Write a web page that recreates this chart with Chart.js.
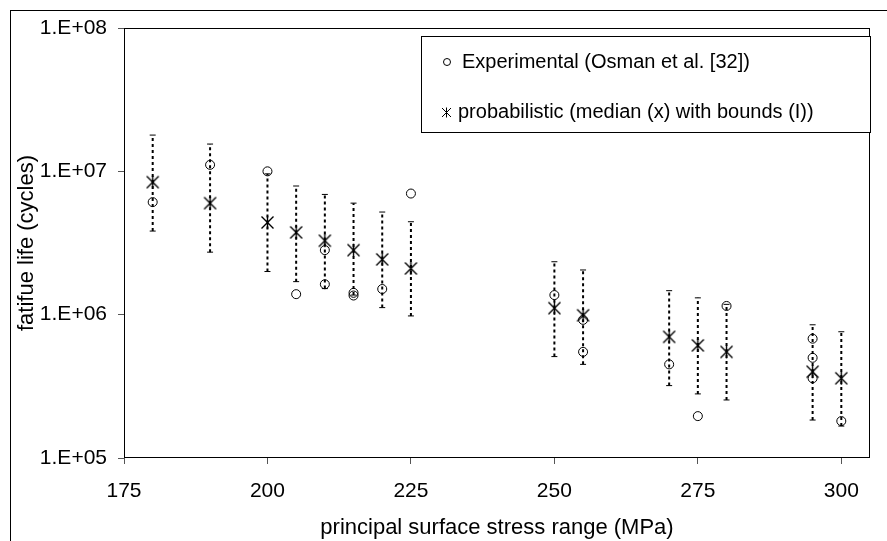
<!DOCTYPE html>
<html>
<head>
<meta charset="utf-8">
<title>fatigue life vs stress range</title>
<script src="https://cdn.jsdelivr.net/npm/chart.js@4.4.1/dist/chart.umd.min.js"></script>
<style>
  body { margin: 0; background: #fff; }
  #graphicFirst { display: block; }
</style>
</head>
<body>
<canvas id="graphicFirst" width="887" height="541"></canvas>
<script>
// S-N chart: experimental points + probabilistic median with bounds
// Librerias: Chart.js

//-----DATA
const stressLevels = [180, 190, 200, 205, 210, 215, 220, 225, 250, 255, 270, 275, 280, 295, 300];
const medianLife = [8.4e6, 6.0e6, 4.4e6, 3.75e6, 3.28e6, 2.82e6, 2.43e6, 2.1e6, 1.11e6, 9.9e5, 7.0e5, 6.1e5, 5.5e5, 4.0e5, 3.6e5];
const upperBound = [1.79e7, 1.55e7, 9.6e6, 7.9e6, 6.9e6, 6.0e6, 5.2e6, 4.45e6, 2.34e6, 2.05e6, 1.47e6, 1.31e6, 1.18e6, 8.5e5, 7.6e5];
const lowerBound = [3.83e6, 2.73e6, 2.0e6, 1.7e6, 1.52e6, 1.37e6, 1.12e6, 9.8e5, 5.1e5, 4.5e5, 3.2e5, 2.8e5, 2.54e5, 1.84e5, 1.67e5];

const expStress = [180, 190, 200, 205, 210, 210, 215, 215, 220, 225, 250, 255, 255, 270, 275, 280, 295, 295, 295, 300];
const expLife = [6.1e6, 1.11e7, 1.0e7, 1.39e6, 2.82e6, 1.63e6, 1.42e6, 1.36e6, 1.51e6, 7.0e6, 1.37e6, 9.2e5, 5.5e5, 4.5e5, 1.96e5, 1.15e6, 6.8e5, 5.0e5, 3.6e5, 1.81e5];

const xTickValues = [175, 200, 225, 250, 275, 300];
const yTickValues = [1e5, 1e6, 1e7, 1e8];
const yTickLabels = ['1.E+05', '1.E+06', '1.E+07', '1.E+08'];
const seriesLabels = ['Experimental (Osman et al. [32])', 'probabilistic (median (x) with bounds (I))'];
const xTitle = 'principal surface stress range (MPa)';
const yTitle = 'fatifue life (cycles)';

const fontFamily = "'Liberation Sans', Arial, sans-serif";

//-----MARKERS
function drawStar(g, cx, cy, h, lw){
  g.beginPath();
  g.moveTo(cx - h, cy - h); g.lineTo(cx + h, cy + h);
  g.moveTo(cx + h, cy - h); g.lineTo(cx - h, cy + h);
  g.moveTo(cx, cy - h - 0.5); g.lineTo(cx, cy + h + 0.5);
  g.lineWidth = lw;
  g.strokeStyle = '#000';
  g.stroke();
}

function makeStarMarker(size){
  let c = document.createElement('canvas');
  c.width = size;
  c.height = size;
  let g = c.getContext('2d');
  drawStar(g, size / 2, size / 2, size / 2 - 1.5, 1.4);
  return c;
}

function buildErrorBars(){
  let pts = [];
  for (let i = 0; i < stressLevels.length; i++) {
    pts.push({x: stressLevels[i], y: lowerBound[i]});
    pts.push({x: stressLevels[i], y: upperBound[i]});
    pts.push({x: stressLevels[i], y: null});
  }
  return pts;
}

//-----FRAMES + LEGEND
const framePlugin = {
  id: 'framePlugin',
  beforeDraw(chart){
    const ctx = chart.ctx;
    ctx.save();
    ctx.strokeStyle = '#000';
    ctx.lineWidth = 1;
    ctx.strokeRect(10.5, 10.5, chart.width, chart.height);
    ctx.restore();
  },
  afterDraw(chart){
    const ctx = chart.ctx;
    const a = chart.chartArea;
    ctx.save();
    ctx.strokeStyle = '#000';
    ctx.lineWidth = 1;
    ctx.strokeRect(Math.round(a.left) + 0.5, Math.round(a.top) + 0.5,
      Math.round(a.right - a.left) - 1, Math.round(a.bottom - a.top) - 1);

    // legend box
    let lx = 421, ly = 36, lw = 449, lh = 96;
    ctx.fillStyle = '#fff';
    ctx.fillRect(lx, ly, lw, lh);
    ctx.strokeRect(lx + 0.5, ly + 0.5, lw, lh);

    ctx.font = '20px ' + fontFamily;
    ctx.fillStyle = '#000';
    ctx.textBaseline = 'middle';
    ctx.textAlign = 'left';

    ctx.beginPath();
    ctx.arc(447, 62, 3.5, 0, Math.PI * 2);
    ctx.stroke();
    ctx.fillText(seriesLabels[0], 462, 62);

    drawStar(ctx, 446.5, 112.5, 4.5, 1);
    ctx.fillText(seriesLabels[1], 458, 112);
    ctx.restore();
  }
};

//-----GRAPHIC
let chart1;
function drawFirstElement(){
  const ctx = document.getElementById('graphicFirst').getContext('2d');
  if (chart1) {
    chart1.destroy();
  }
  chart1 = new Chart(ctx, {
    type: 'scatter',
    data: {
      datasets: [
        {
          label: seriesLabels[0],
          data: expStress.map((x, i) => ({x: x, y: expLife[i]})),
          pointStyle: 'circle',
          pointRadius: 4.5,
          borderColor: '#000',
          borderWidth: 1,
          backgroundColor: 'rgba(0,0,0,0)',
          order: 1
        },
        {
          label: seriesLabels[1],
          data: stressLevels.map((x, i) => ({x: x, y: medianLife[i]})),
          pointStyle: makeStarMarker(15),
          pointRadius: 7,
          order: 0
        },
        {
          label: 'bounds',
          data: buildErrorBars(),
          showLine: true,
          spanGaps: false,
          borderColor: '#000',
          borderWidth: 2,
          borderDash: [3, 3],
          pointStyle: 'line',
          pointRadius: 3,
          pointBorderWidth: 1,
          pointBorderColor: '#000',
          order: 2
        }
      ]
    },
    options: {
      responsive: false,
      animation: false,
      devicePixelRatio: 1,
      layout: { padding: { left: 10, top: 28, right: 17, bottom: 0 } },
      plugins: {
        legend: { display: false },
        tooltip: { enabled: false }
      },
      scales: {
        x: {
          type: 'linear',
          min: 175,
          max: 305,
          afterBuildTicks: axis => { axis.ticks = xTickValues.map(v => ({value: v})); },
          afterFit: scale => { scale.height = 83; },
          grid: { drawOnChartArea: false, drawTicks: true, tickLength: 6, color: '#555' },
          border: { display: false },
          ticks: {
            color: '#000',
            font: { family: fontFamily, size: 21 },
            padding: 15,
            maxRotation: 0,
            autoSkip: false
          },
          title: {
            display: true,
            text: xTitle,
            color: '#000',
            font: { family: fontFamily, size: 22 },
            padding: { top: 0, bottom: 0 }
          }
        },
        y: {
          type: 'logarithmic',
          min: 1e5,
          max: 1e8,
          afterBuildTicks: axis => { axis.ticks = yTickValues.map(v => ({value: v})); },
          afterFit: scale => { scale.width = 114; },
          grid: { drawOnChartArea: false, drawTicks: true, tickLength: 6, color: '#555' },
          border: { display: false },
          ticks: {
            color: '#000',
            font: { family: fontFamily, size: 21 },
            padding: 11,
            autoSkip: false,
            callback: v => yTickLabels[yTickValues.indexOf(v)]
          },
          title: {
            display: true,
            text: yTitle,
            color: '#000',
            font: { family: fontFamily, size: 22 },
            padding: { top: 4, bottom: 0 }
          }
        }
      }
    },
    plugins: [framePlugin]
  });
}

drawFirstElement();
</script>
</body>
</html>
